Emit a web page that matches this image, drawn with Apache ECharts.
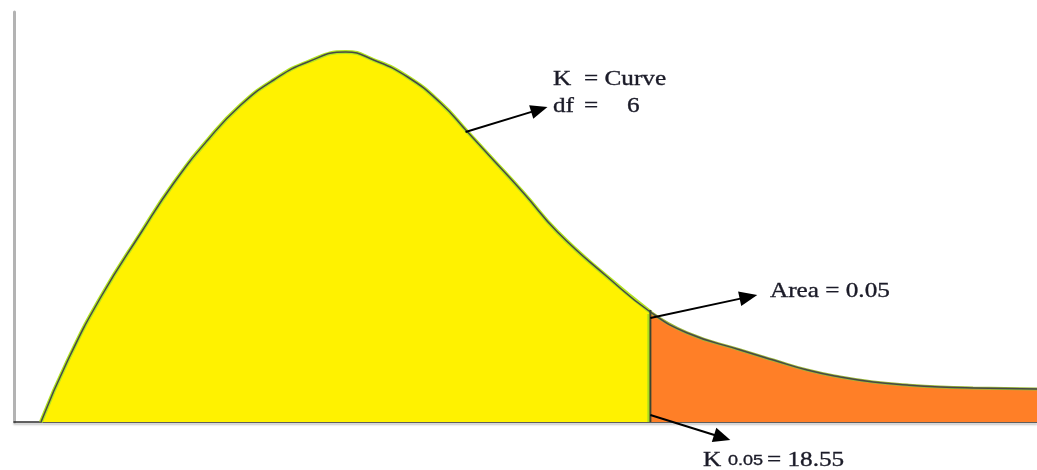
<!DOCTYPE html>
<html>
<head>
<meta charset="utf-8">
<script src="https://cdn.jsdelivr.net/npm/echarts@6/dist/echarts.min.js"></script>
<style>
html,body{margin:0;padding:0;background:#fff;}
#chart{width:1037px;height:470px;}
</style>
</head>
<body>
<div id="chart"></div>
<script>
// Curve (horizontal position, height above baseline)
const curveX = [27, 54, 87, 127, 160, 194, 227, 260, 294, 332, 360, 394, 427, 454, 477, 510, 544, 594, 637, 674, 727, 760, 794, 827, 860, 894, 927, 960, 1024];
const curveY = [0, 62, 125, 189, 239, 282, 317, 342, 360, 370, 362, 345, 319, 290, 265, 229, 190, 145, 110, 89, 72, 62, 52, 45, 40, 37, 35, 34, 33];
const cutoffX = 637;          // critical value position (K 0.05 = 18.55)
const xMax = 1024;
const yMax = 410;

// annotation arrows: [from, tip] in data coordinates
const arrowCurve = [[452, 290], [534, 315]];
const arrowArea = [[637, 104], [744, 127]];
const arrowK = [[637, 7], [717, -18]];

const pts = curveX.map((x, i) => [x, curveY[i]]);
const cutIdx = curveX.indexOf(cutoffX);
const leftPts = pts.slice(0, cutIdx + 1);
const rightPts = pts.slice(cutIdx);
const cutTop = curveY[cutIdx];

const chart = echarts.init(document.getElementById('chart'), null, {renderer: 'canvas'});
const serif = 'Liberation Serif';
const txtColor = '#1b1b28';
const sx = 1.2;

function txt(text, x, y, size, family) {
  return {
    type: 'text', x: x, y: y, scaleX: sx, silent: true, z: 100,
    style: {text: text, font: size + 'px "' + (family || serif) + '"', fill: txtColor, stroke: txtColor, lineWidth: 0.35,
      textAlign: 'left', verticalAlign: 'middle'}
  };
}

const smooth = 0.5;
chart.setOption({
  animation: false,
  backgroundColor: '#ffffff',
  grid: {left: 14, right: 0, top: 12, bottom: 48, containLabel: false},
  xAxis: {
    type: 'value', min: 0, max: xMax,
    axisLine: {show: true, onZero: false, lineStyle: {color: '#2e2e2e', width: 1.5, shadowColor: 'rgba(0,0,0,0.3)', shadowOffsetY: 2, shadowBlur: 2}},
    axisTick: {show: false}, axisLabel: {show: false}, splitLine: {show: false}
  },
  yAxis: {
    type: 'value', min: 0, max: yMax,
    axisLine: {show: true, lineStyle: {color: '#b3b3b3', width: 3}},
    axisTick: {show: false}, axisLabel: {show: false}, splitLine: {show: false}
  },
  series: [
    {
      name: 'body', type: 'line', data: leftPts, smooth: smooth, symbol: 'none', z: 2,
      lineStyle: {color: '#b2e41e', width: 4},
      areaStyle: {color: '#fff200', opacity: 1}
    },
    {
      name: 'tail', type: 'line', data: rightPts, smooth: smooth, symbol: 'none', z: 2,
      lineStyle: {color: '#9bb83a', width: 3},
      areaStyle: {color: '#ff7f27', opacity: 1}
    },
    {
      name: 'outline', type: 'line', data: pts, smooth: smooth, symbol: 'none', z: 3,
      lineStyle: {color: '#474747', width: 1.5}
    },
    {
      name: 'cutGreen', type: 'line', data: [[cutoffX - 2, 0], [cutoffX - 2, cutTop - 2]], symbol: 'none', z: 4,
      lineStyle: {color: '#a6dc20', width: 2}
    },
    {
      name: 'cutLine', type: 'line', data: [[cutoffX, 0], [cutoffX, cutTop + 2]], symbol: 'none', z: 5,
      lineStyle: {color: '#3b4630', width: 2}
    }
  ]
});

// arrows positioned through the chart's own scales
function arrow(a, headLen, headW) {
  const p0 = chart.convertToPixel({gridIndex: 0}, a[0]);
  const p1 = chart.convertToPixel({gridIndex: 0}, a[1]);
  const dx = p1[0] - p0[0], dy = p1[1] - p0[1];
  const len = Math.sqrt(dx * dx + dy * dy);
  const ux = dx / len, uy = dy / len;
  const bx = p1[0] - ux * headLen, by = p1[1] - uy * headLen;
  const nx = -uy * headW / 2, ny = ux * headW / 2;
  return [
    {type: 'line', silent: true, z: 90, shape: {x1: p0[0], y1: p0[1], x2: bx + ux * 2, y2: by + uy * 2},
      style: {stroke: '#000', lineWidth: 2}},
    {type: 'polygon', silent: true, z: 91, shape: {points: [[p1[0], p1[1]], [bx + nx, by + ny], [bx - nx, by - ny]]},
      style: {fill: '#000'}}
  ];
}

chart.setOption({
  graphic: [
    txt('K', 553, 79, 21),
    txt('= Curve', 584, 79, 21),
    txt('df', 553, 106, 21),
    txt('=', 584, 106, 21),
    txt('6', 627, 106, 21),
    txt('Area = 0.05', 770, 291, 21),
    txt('K', 703, 460, 21),
    txt('0.05', 728, 461, 15, 'Liberation Sans'),
    txt('= 18.55', 767, 460, 21)
  ].concat(arrow(arrowCurve, 17, 14), arrow(arrowArea, 18, 15), arrow(arrowK, 17, 15))
});
</script>
</body>
</html>
